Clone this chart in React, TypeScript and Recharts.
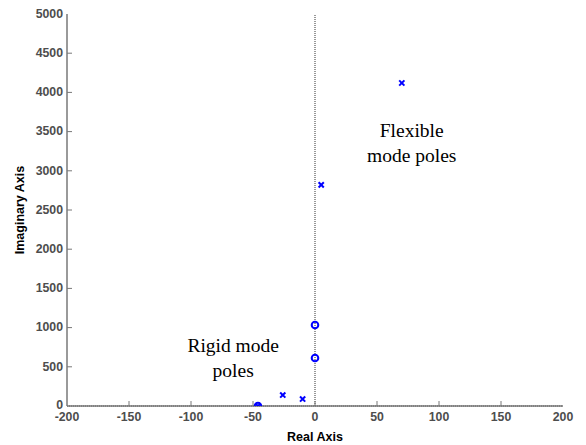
import React from 'react';
import { ScatterChart, Scatter, XAxis, YAxis, ReferenceLine, ReferenceDot } from 'recharts';

const xTicks = [-200, -150, -100, -50, 0, 50, 100, 150, 200];
const yTicks = [0, 500, 1000, 1500, 2000, 2500, 3000, 3500, 4000, 4500, 5000];

const polesReal = [70, 5, -26, -10, -46];
const polesImag = [4120, 2820, 140, 89, 0];
const zerosReal = [0, 0, -46];
const zerosImag = [1033, 612, 0];

const annotations = [
  { x: 78, y: 3430, lines: ['Flexible', 'mode poles'] },
  { x: -66, y: 690, lines: ['Rigid mode', 'poles'] },
];

const poles = polesReal.map((r, i) => ({ re: r, im: polesImag[i] }));
const zeros = zerosReal.map((r, i) => ({ re: r, im: zerosImag[i] }));

const AXIS = '#787878';
const TICKTXT = '#4d4d4d';
const SANS = '"Liberation Sans", Arial, sans-serif';
const SERIF = '"Liberation Serif", "Times New Roman", serif';
const BLUE = '#0000ff';

const BottomTick = (p: any) => (
  <g>
    {p.payload.value > -200 && p.payload.value < 200 && (
      <line x1={p.x} y1={p.y} x2={p.x} y2={p.y - 5} stroke={AXIS} strokeWidth={1} />
    )}
    <text x={p.x} y={p.y + 15} textAnchor="middle" fontFamily={SANS} fontWeight={700} fontSize={12.3} fill={TICKTXT}>
      {p.payload.value}
    </text>
  </g>
);

const TopTick = (p: any) =>
  p.payload.value > -200 && p.payload.value < 200 ? (
    <line x1={p.x} y1={p.y} x2={p.x} y2={p.y + 5} stroke={AXIS} strokeWidth={1} />
  ) : (
    <g />
  );

const LeftTick = (p: any) => (
  <g>
    {p.payload.value > 0 && p.payload.value < 5000 && (
      <line x1={p.x} y1={p.y} x2={p.x + 5} y2={p.y} stroke={AXIS} strokeWidth={1} />
    )}
    <text x={p.x - 4} y={p.y + (p.payload.value === 0 ? 2.5 : 3.8)} textAnchor="end" fontFamily={SANS} fontWeight={700} fontSize={12.3} fill={TICKTXT}>
      {p.payload.value}
    </text>
  </g>
);

const RightTick = (p: any) =>
  p.payload.value > 0 && p.payload.value < 5000 ? (
    <line x1={p.x} y1={p.y} x2={p.x - 5} y2={p.y} stroke={AXIS} strokeWidth={1} />
  ) : (
    <g />
  );

const XMark = (p: any) => {
  const s = 2.6;
  return (
    <g>
      <line x1={p.cx - s} y1={p.cy - s} x2={p.cx + s} y2={p.cy + s} stroke={BLUE} strokeWidth={2} />
      <line x1={p.cx - s} y1={p.cy + s} x2={p.cx + s} y2={p.cy - s} stroke={BLUE} strokeWidth={2} />
    </g>
  );
};

const OMark = (p: any) => (
  <circle cx={p.cx} cy={p.cy} r={3.3} fill="none" stroke={BLUE} strokeWidth={2} />
);

const AnnText = (lines: string[]) => (p: any) => (
  <text x={p.cx} y={p.cy} textAnchor="middle" fontFamily={SERIF} fontSize={19.5} fill="#000">
    {lines.map((l, i) => (
      <tspan key={i} x={p.cx} dy={i === 0 ? 0 : 25}>
        {l}
      </tspan>
    ))}
  </text>
);

export default function App() {
  return (
    <div style={{ position: 'absolute', left: 0, top: 0, width: 586, height: 445, background: '#fff' }}>
      <ScatterChart width={586} height={445} margin={{ top: 14, right: 23, bottom: 0, left: 0 }}>
        <XAxis
          xAxisId="b"
          type="number"
          dataKey="re"
          domain={[-200, 200]}
          ticks={xTicks}
          height={39}
          tickSize={0}
          tickMargin={0}
          tick={<BottomTick />}
          axisLine={{ stroke: AXIS, strokeWidth: 1.5 }}
          allowDataOverflow
          interval={0}
          label={{ value: 'Real Axis', position: 'insideBottom', offset: 4, fontFamily: SANS, fontWeight: 'bold', fontSize: 12.5, fill: '#000' }}
        />
        <XAxis
          xAxisId="t"
          orientation="top"
          type="number"
          dataKey="re"
          domain={[-200, 200]}
          ticks={xTicks}
          height={0}
          tickSize={0}
          tickMargin={0}
          tick={<TopTick />}
          axisLine={{ stroke: AXIS, strokeWidth: 1.5 }}
          allowDataOverflow
          interval={0}
        />
        <YAxis
          yAxisId="l"
          type="number"
          dataKey="im"
          domain={[0, 5000]}
          ticks={yTicks}
          width={67}
          tickSize={0}
          tickMargin={0}
          tick={<LeftTick />}
          axisLine={{ stroke: AXIS, strokeWidth: 1.5 }}
          allowDataOverflow
          interval={0}
          label={{ value: 'Imaginary Axis', angle: -90, position: 'insideLeft', offset: 20, style: { textAnchor: 'middle' }, fontFamily: SANS, fontWeight: 'bold', fontSize: 12.5, fill: '#000' }}
        />
        <YAxis
          yAxisId="r"
          orientation="right"
          type="number"
          dataKey="im"
          domain={[0, 5000]}
          ticks={yTicks}
          width={0}
          tickSize={0}
          tickMargin={0}
          tick={<RightTick />}
          axisLine={{ stroke: AXIS, strokeWidth: 1.5 }}
          allowDataOverflow
          interval={0}
        />
        <ReferenceLine xAxisId="b" yAxisId="l" x={0} stroke="#333" strokeDasharray="1 1" strokeWidth={1} />
        <ReferenceLine xAxisId="b" yAxisId="l" y={0} stroke="#333" strokeDasharray="1 1" strokeWidth={1} />
        <Scatter xAxisId="b" yAxisId="l" data={poles} shape={<XMark />} isAnimationActive={false} />
        <Scatter xAxisId="b" yAxisId="l" data={zeros} shape={<OMark />} isAnimationActive={false} />
        {annotations.map((a, i) => (
          <ReferenceDot key={i} xAxisId="b" yAxisId="l" x={a.x} y={a.y} r={0} shape={AnnText(a.lines)} />
        ))}
      </ScatterChart>
    </div>
  );
}
